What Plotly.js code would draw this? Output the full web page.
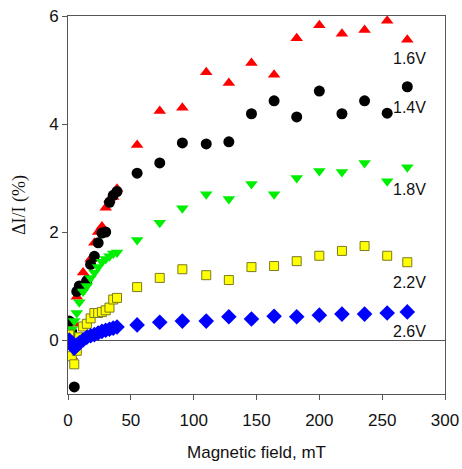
<!DOCTYPE html>
<html>
<head>
<meta charset="utf-8">
<script src="https://cdn.plot.ly/plotly-3.0.1.min.js"></script>
<style>html,body{margin:0;padding:0;background:#fff}#chart{width:462px;height:469px}</style>
</head>
<body>
<div id="chart"></div>
<script>
// Magnetic field (mT)
const field = [1, 3, 5, 7, 9, 12, 15, 18, 21, 24, 27, 30, 33, 36, 39,
               55, 73, 91, 110, 128, 146, 164, 182, 200, 218, 236, 254, 270];

// ΔI/I (%) for each bias voltage
const v16 = [0.1, -0.3, 0.3, 0.8, 0.9, 1.25, 1.15, 1.5, 1.8, 2.0, 2.1, 2.45, 2.6, 2.65, 2.8,
             3.61, 4.24, 4.30, 4.96, 4.76, 5.13, 4.91, 5.59, 5.83, 5.67, 5.74, 5.91, 5.56];
const v14 = [0.35, 0.15, -0.87, 0.9, 1.0, 1.0, 1.1, 1.4, 1.55, 1.8, 1.98, 2.0, 2.55, 2.68, 2.75,
             3.09, 3.28, 3.65, 3.63, 3.67, 4.19, 4.43, 4.13, 4.61, 4.19, 4.43, 4.20, 4.69];
const v18 = [0.1, 0.2, 0.35, 0.5, 0.7, 0.9, 1.0, 1.15, 1.25, 1.35, 1.45, 1.5, 1.55, 1.6, 1.62,
             1.85, 2.17, 2.44, 2.70, 2.61, 2.89, 2.70, 3.00, 3.13, 3.11, 3.28, 2.94, 3.20];
const v22 = [0.1, -0.3, -0.45, -0.2, 0.05, 0.25, 0.3, 0.4, 0.5, 0.5, 0.52, 0.55, 0.6, 0.75, 0.78,
             0.98, 1.15, 1.31, 1.20, 1.11, 1.35, 1.37, 1.46, 1.56, 1.65, 1.74, 1.56, 1.44];
const v26 = [0.0, -0.05, -0.15, -0.1, -0.05, 0.0, 0.05, 0.08, 0.1, 0.13, 0.16, 0.18, 0.2, 0.22, 0.24,
             0.28, 0.33, 0.35, 0.35, 0.43, 0.39, 0.44, 0.43, 0.46, 0.48, 0.48, 0.50, 0.52];

// Curve labels
const labelText = ["1.6V", "1.4V", "1.8V", "2.2V", "2.6V"];
const labelX = [272, 272, 272, 272, 272];
const labelY = [5.22, 4.31, 2.78, 1.06, 0.15];

const traces = [
  {x: field, y: v16, mode: 'markers', type: 'scatter',
   marker: {symbol: 'triangle-up', size: 11, color: '#ff0000'}},
  {x: field, y: v14, mode: 'markers', type: 'scatter',
   marker: {symbol: 'circle', size: 11, color: '#000000'}},
  {x: field, y: v18, mode: 'markers', type: 'scatter',
   marker: {symbol: 'triangle-down', size: 11, color: '#00ee00'}},
  {x: field, y: v22, mode: 'markers', type: 'scatter',
   marker: {symbol: 'square', size: 9, color: '#ffff00', line: {color: '#7a7a20', width: 1}}},
  {x: field, y: v26, mode: 'markers', type: 'scatter',
   marker: {symbol: 'diamond', size: 12, color: '#0000ff'}}
];

const annotations = labelText.map((t, i) => ({
  x: labelX[i], y: labelY[i], text: t, showarrow: false,
  xanchor: 'center', yanchor: 'middle',
  font: {family: 'Liberation Sans, Arial, sans-serif', size: 16, color: '#111'}
}));

const layout = {
  width: 462, height: 469,
  margin: {l: 68, r: 17, t: 16, b: 75},
  paper_bgcolor: '#fff', plot_bgcolor: '#fff',
  showlegend: false,
  font: {family: 'Liberation Sans, Arial, sans-serif', size: 17, color: '#111'},
  xaxis: {
    range: [0, 300], tickvals: [0, 50, 100, 150, 200, 250, 300],
    ticks: 'outside', ticklen: 5, tickcolor: '#555', ticklabelstandoff: 6,
    showline: true, linecolor: '#555', linewidth: 1, mirror: true,
    showgrid: false, zeroline: false,
    tickfont: {size: 17},
    title: {text: 'Magnetic field, mT', font: {size: 17}, standoff: 16}
  },
  yaxis: {
    range: [-1, 6], tickvals: [0, 2, 4, 6],
    ticks: 'outside', ticklen: 5, tickcolor: '#555',
    showline: true, linecolor: '#555', linewidth: 1, mirror: true,
    showgrid: false, zeroline: true, zerolinecolor: '#555', zerolinewidth: 1,
    tickfont: {size: 17},
    title: {text: 'ΔI/I (%)', font: {family: 'Liberation Serif, Times New Roman, serif', size: 18}, standoff: 18}
  },
  annotations: annotations
};

Plotly.newPlot('chart', traces, layout, {displayModeBar: false, staticPlot: true});
</script>
</body>
</html>
